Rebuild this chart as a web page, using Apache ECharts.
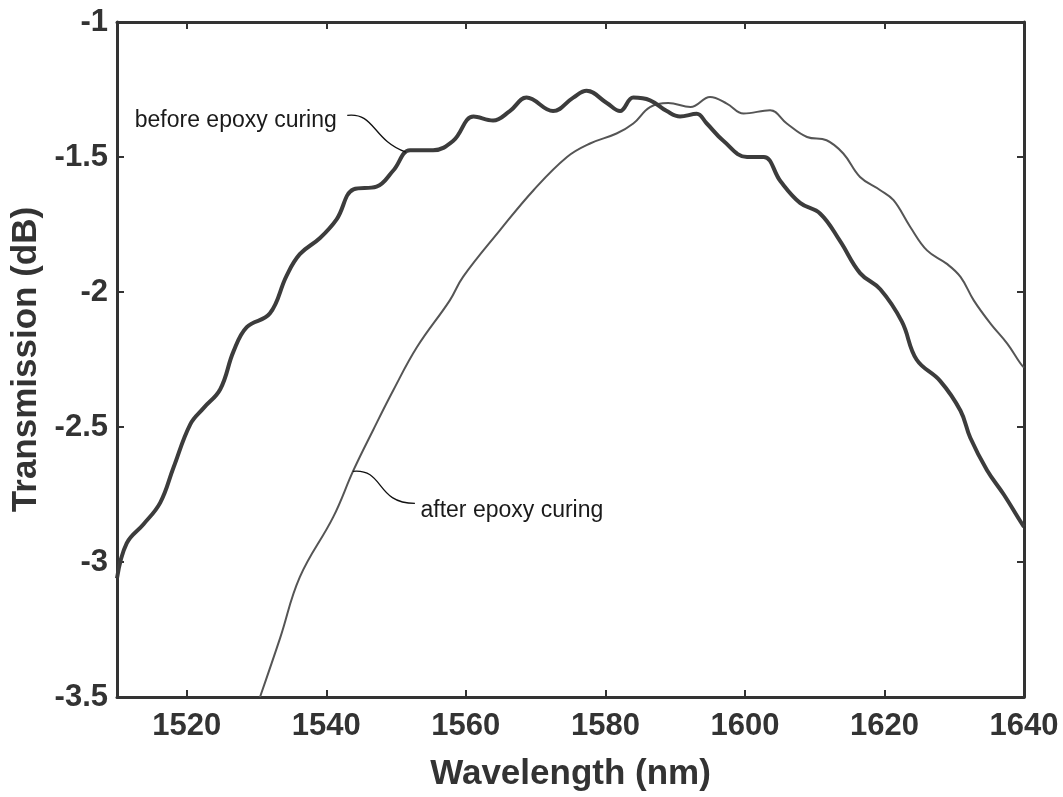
<!DOCTYPE html>
<html>
<head>
<meta charset="utf-8">
<script src="https://cdn.jsdelivr.net/npm/echarts@6/dist/echarts.min.js"></script>
<style>
html,body{margin:0;padding:0;background:#fff;}
#chart{width:1063px;height:797px;}
</style>
</head>
<body>
<div id="chart"></div>
<script>
// ---- data ----
var beforeWl = [1510,1511.4,1513.8,1516.2,1518.1,1520.5,1522.4,1524.8,1526.7,1528.6,1531.9,1534.3,1536.2,1539.1,1541.5,1543.9,1547.2,1549.6,1552.0,1555.3,1558.2,1561.1,1563.9,1566.3,1568.7,1572.5,1575.4,1577.3,1580.2,1582.1,1584.0,1586.4,1588.8,1590.7,1593.1,1594.5,1596.9,1600.3,1602.7,1605.1,1607.9,1610.8,1613.6,1616.5,1619.4,1622.5,1624.6,1628.0,1630.9,1632.3,1634.7,1637.1,1639.5,1640];
var beforeDb = [-3.06,-2.93,-2.86,-2.78,-2.65,-2.49,-2.43,-2.36,-2.22,-2.13,-2.08,-1.94,-1.86,-1.80,-1.73,-1.62,-1.61,-1.55,-1.475,-1.475,-1.44,-1.35,-1.365,-1.33,-1.28,-1.33,-1.28,-1.255,-1.30,-1.33,-1.28,-1.29,-1.33,-1.35,-1.34,-1.375,-1.44,-1.50,-1.50,-1.59,-1.67,-1.71,-1.81,-1.93,-1.99,-2.11,-2.25,-2.33,-2.44,-2.54,-2.66,-2.75,-2.85,-2.87];

var afterWl = [1530.5,1533.4,1536.2,1541.0,1543.9,1546.7,1549.6,1553.0,1557.7,1559.6,1564.9,1569.7,1574.5,1577.8,1581.6,1584.0,1586.4,1589.0,1592.2,1595.0,1597.4,1599.8,1603.6,1606.0,1608.9,1611.7,1614.1,1616.5,1619.4,1621.3,1623.7,1626.1,1628.9,1630.9,1632.8,1635.2,1637.6,1639.5,1640];
var afterDb = [-3.5,-3.28,-3.056,-2.833,-2.66,-2.512,-2.364,-2.204,-2.031,-1.944,-1.771,-1.623,-1.50,-1.45,-1.413,-1.376,-1.315,-1.30,-1.315,-1.278,-1.302,-1.339,-1.327,-1.376,-1.426,-1.438,-1.487,-1.574,-1.623,-1.66,-1.759,-1.846,-1.895,-1.944,-2.031,-2.117,-2.191,-2.265,-2.28];

var xTicks = [1520,1540,1560,1580,1600,1620,1640];
var yTicks = [-1,-1.5,-2,-2.5,-3,-3.5];

// annotation anchors in data coordinates
var beforeLabel = {text:'before epoxy curing', at:[1541.5,-1.365]};
var beforeLeader = [[1543.0,-1.346],[1547.0,-1.334],[1546.6,-1.438],[1551.4,-1.482]];
var afterLabel = {text:'after epoxy curing', at:[1553.5,-2.81]};
var afterLeader = [[1543.8,-2.664],[1548.4,-2.653],[1547.0,-2.783],[1552.7,-2.783]];

function zip(a,b){var r=[];for(var i=0;i<a.length;i++)r.push([a[i],b[i]]);return r;}

var chart = echarts.init(document.getElementById('chart'));
var FONT = '"Liberation Sans", Arial, sans-serif';
var axisLineStyle = {color:'#333', width:3};
var tickStyle = {color:'#333', width:2};

var option = {
  animation:false,
  backgroundColor:'#fff',
  grid:{left:117, right:39, top:22, bottom:100, containLabel:false},
  xAxis:[{
    type:'value', min:1510, max:1640, position:'bottom',
    name:'Wavelength (nm)', nameLocation:'middle', nameGap:60,
    nameTextStyle:{fontFamily:FONT, fontWeight:'bold', fontSize:35, color:'#333'},
    axisLine:{show:true, onZero:false, lineStyle:axisLineStyle},
    axisTick:{show:true, inside:true, length:7, lineStyle:tickStyle, customValues:xTicks},
    axisLabel:{show:true, margin:14, fontFamily:FONT, fontWeight:'bold', fontSize:31, color:'#333', customValues:xTicks,
      formatter:function(v){return String(v);}},
    splitLine:{show:false}
  },{
    type:'value', min:1510, max:1640, position:'top',
    axisLine:{show:true, onZero:false, lineStyle:axisLineStyle},
    axisTick:{show:true, inside:true, length:7, lineStyle:tickStyle, customValues:xTicks},
    axisLabel:{show:false},
    splitLine:{show:false}
  }],
  yAxis:[{
    type:'value', min:-3.5, max:-1, interval:0.5, position:'left',
    name:'Transmission (dB)', nameLocation:'middle', nameGap:70,
    nameTextStyle:{fontFamily:FONT, fontWeight:'bold', fontSize:35, color:'#333'},
    axisLine:{show:true, onZero:false, lineStyle:axisLineStyle},
    axisTick:{show:true, inside:true, length:7, lineStyle:tickStyle},
    axisLabel:{show:true, margin:9, fontFamily:FONT, fontWeight:'bold', fontSize:31, color:'#333',
      formatter:function(v){return String(v);}},
    splitLine:{show:false}
  },{
    type:'value', min:-3.5, max:-1, interval:0.5, position:'right',
    axisLine:{show:true, onZero:false, lineStyle:axisLineStyle},
    axisTick:{show:true, inside:true, length:7, lineStyle:tickStyle},
    axisLabel:{show:false},
    splitLine:{show:false}
  }],
  series:[{
    name:'before epoxy curing', type:'line', xAxisIndex:0, yAxisIndex:0,
    data:zip(beforeWl,beforeDb), showSymbol:false, smooth:0.4,
    lineStyle:{color:'#3c3c3c', width:4}, z:3
  },{
    name:'after epoxy curing', type:'line', xAxisIndex:0, yAxisIndex:0,
    data:zip(afterWl,afterDb), showSymbol:false, smooth:0.4,
    lineStyle:{color:'#555', width:2}, z:2
  }]
};
chart.setOption(option);

function px(p){return chart.convertToPixel({xAxisIndex:0,yAxisIndex:0}, p);}
function leader(pts){
  var a=px(pts[0]), c1=px(pts[1]), c2=px(pts[2]), b=px(pts[3]);
  return {type:'bezierCurve', shape:{x1:a[0],y1:a[1],cpx1:c1[0],cpy1:c1[1],cpx2:c2[0],cpy2:c2[1],x2:b[0],y2:b[1]},
    style:{stroke:'#111', lineWidth:1.3, fill:null}, z:10};
}
var bl = px(beforeLabel.at), al = px(afterLabel.at);
chart.setOption({graphic:[
  leader(beforeLeader),
  leader(afterLeader),
  {type:'text', x:bl[0], y:bl[1], z:10, style:{text:beforeLabel.text, fontFamily:FONT, fontSize:23, fill:'#1a1a1a', align:'right', verticalAlign:'middle'}},
  {type:'text', x:al[0], y:al[1], z:10, style:{text:afterLabel.text, fontFamily:FONT, fontSize:23, fill:'#1a1a1a', align:'left', verticalAlign:'middle'}}
]});
</script>
</body>
</html>
